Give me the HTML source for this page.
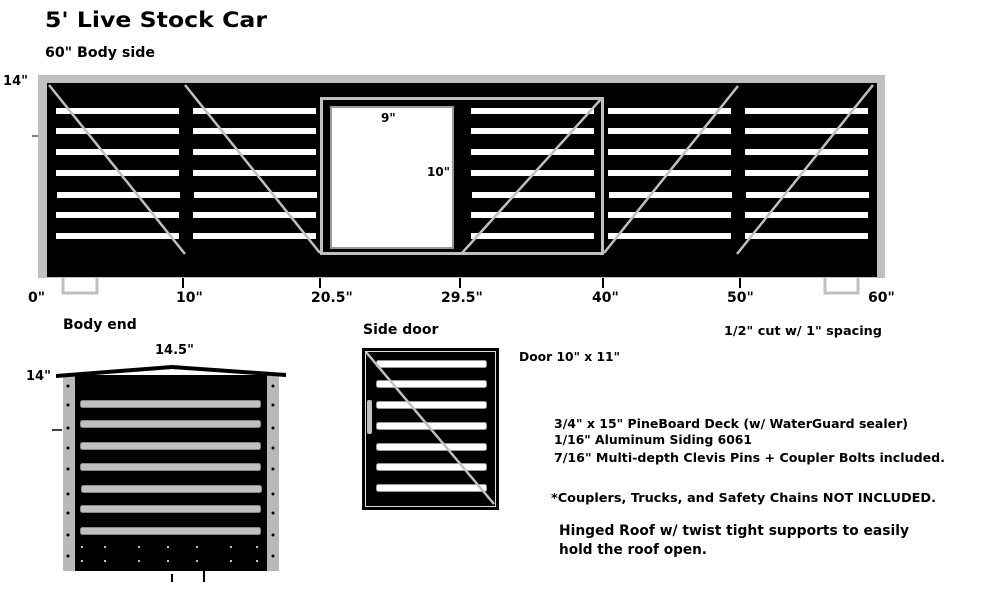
<!DOCTYPE html>
<html><head><meta charset="utf-8"><style>
html,body{margin:0;padding:0;background:#fff;}
svg{display:block;}
text{font-family:"DejaVu Sans","Liberation Sans",sans-serif;font-weight:bold;fill:#000;}
</style></head><body>
<svg width="1000" height="608" viewBox="0 0 1000 608" xmlns="http://www.w3.org/2000/svg">
<text x="45" y="27" font-size="21" textLength="222" lengthAdjust="spacingAndGlyphs">5' Live Stock Car</text>
<text x="45" y="57" font-size="14" textLength="110" lengthAdjust="spacingAndGlyphs">60" Body side</text>
<text x="3" y="85" font-size="13" textLength="25" lengthAdjust="spacingAndGlyphs">14"</text>
<line x1="32" y1="136" x2="39" y2="136" stroke="#000" stroke-width="1"/>

<rect x="38" y="75" width="847" height="203" fill="#c0c0c0"/>
<rect x="47" y="83" width="830" height="194" fill="#000"/>
<g fill="#fff">
<g id="sl">
<rect x="56" y="108" width="123" height="6"/><rect x="56" y="128" width="123" height="6"/>
<rect x="56" y="149" width="123" height="6"/><rect x="56" y="170" width="123" height="6"/>
<rect x="57" y="192" width="123" height="6"/><rect x="56" y="212" width="123" height="6"/>
<rect x="56" y="233" width="123" height="6"/>
</g>
<use href="#sl" x="137"/>
<use href="#sl" x="415"/>
<use href="#sl" x="552"/>
<use href="#sl" x="689"/>
</g>
<rect x="321.5" y="98.5" width="281" height="155" fill="none" stroke="#c0c0c0" stroke-width="3"/>
<rect x="331" y="107" width="122" height="141" fill="#fff" stroke="#999" stroke-width="2"/>
<g stroke="#c0c0c0" stroke-width="2.5">
<line x1="49" y1="85" x2="185" y2="254"/>
<line x1="185" y1="85" x2="320" y2="253"/>
<line x1="462" y1="253" x2="602" y2="98"/>
<line x1="604" y1="253" x2="738" y2="86"/>
<line x1="737" y1="254" x2="873" y2="85"/>
</g>
<text x="381" y="122" font-size="12">9"</text>
<text x="427" y="176" font-size="12">10"</text>
<g stroke="#000" stroke-width="2">
<line x1="183" y1="278" x2="183" y2="288"/><line x1="320" y1="278" x2="320" y2="288"/>
<line x1="460" y1="278" x2="460" y2="288"/><line x1="603" y1="278" x2="603" y2="288"/>
<line x1="740" y1="278" x2="740" y2="288"/>
</g>
<g fill="none" stroke="#c0c0c0" stroke-width="3">
<path d="M63 278 V293 H97 V278"/><path d="M825 278 V293 H858 V278"/>
</g>
<g font-size="14">
<text x="28" y="302">0"</text><text x="176" y="302">10"</text><text x="311" y="302">20.5"</text>
<text x="441" y="302">29.5"</text><text x="592" y="302">40"</text><text x="727" y="302">50"</text>
<text x="868" y="302">60"</text>
</g>

<text x="63" y="329" font-size="14">Body end</text>
<text x="155" y="354" font-size="13">14.5"</text>
<text x="26" y="380" font-size="13">14"</text>
<line x1="52" y1="430" x2="62" y2="430" stroke="#000" stroke-width="1.5"/>
<rect x="63" y="375" width="216" height="196" fill="#b8b8b8"/>
<rect x="75" y="375" width="192" height="196" fill="#000"/>
<path d="M56 374 L172 365 L286 373 L286 377 L172 369 L56 378 Z" fill="#000"/>
<g fill="#c0c0c0" stroke="#888" stroke-width="1">
<rect x="80.5" y="400.5" width="180" height="7" rx="2"/><rect x="80.5" y="420.5" width="180" height="7" rx="2"/>
<rect x="80.5" y="442.5" width="180" height="7" rx="2"/><rect x="80.5" y="463.5" width="180" height="7" rx="2"/>
<rect x="81.5" y="485.5" width="180" height="7" rx="2"/><rect x="80.5" y="505.5" width="180" height="7" rx="2"/>
<rect x="80.5" y="527.5" width="180" height="7" rx="2"/>
</g>
<g fill="#000">
<circle cx="68" cy="386" r="1.5"/><circle cx="68" cy="405" r="1.5"/><circle cx="68" cy="428" r="1.5"/><circle cx="68" cy="448" r="1.5"/><circle cx="68" cy="469" r="1.5"/><circle cx="68" cy="494" r="1.5"/><circle cx="68" cy="513" r="1.5"/><circle cx="68" cy="535" r="1.5"/><circle cx="68" cy="556" r="1.5"/>
<circle cx="273" cy="386" r="1.5"/><circle cx="273" cy="405" r="1.5"/><circle cx="273" cy="428" r="1.5"/><circle cx="273" cy="448" r="1.5"/><circle cx="273" cy="469" r="1.5"/><circle cx="273" cy="494" r="1.5"/><circle cx="273" cy="513" r="1.5"/><circle cx="273" cy="535" r="1.5"/><circle cx="273" cy="556" r="1.5"/>
</g>
<g fill="#fff">
<circle cx="82" cy="547" r="1"/><circle cx="105" cy="547" r="1"/><circle cx="139" cy="547" r="1"/><circle cx="168" cy="547" r="1"/><circle cx="197" cy="547" r="1"/><circle cx="231" cy="547" r="1"/><circle cx="257" cy="547" r="1"/>
<circle cx="82" cy="561" r="1"/><circle cx="105" cy="561" r="1"/><circle cx="139" cy="561" r="1"/><circle cx="168" cy="561" r="1"/><circle cx="197" cy="561" r="1"/><circle cx="231" cy="561" r="1"/><circle cx="257" cy="561" r="1"/>
</g>
<g stroke="#000" stroke-width="2">
<line x1="172" y1="574" x2="172" y2="582"/><line x1="204" y1="571" x2="204" y2="582"/>
</g>

<text x="363" y="334" font-size="14">Side door</text>
<rect x="362" y="348" width="137" height="162" fill="#000"/>
<rect x="365.5" y="351.5" width="130" height="155" fill="none" stroke="#ddd" stroke-width="1"/>
<g fill="#fff" stroke="#999" stroke-width="1">
<rect x="376.5" y="360.5" width="110" height="7" rx="2"/><rect x="376.5" y="380.5" width="110" height="7" rx="2"/>
<rect x="376.5" y="401.5" width="110" height="7" rx="2"/><rect x="376.5" y="422.5" width="110" height="7" rx="2"/>
<rect x="376.5" y="443.5" width="110" height="7" rx="2"/><rect x="376.5" y="463.5" width="110" height="7" rx="2"/>
<rect x="376.5" y="484.5" width="110" height="7" rx="2"/>
</g>
<rect x="367" y="400" width="5" height="34" rx="2" fill="#c0c0c0"/>
<line x1="366" y1="352" x2="494" y2="504" stroke="#c0c0c0" stroke-width="2.5"/>

<text x="519" y="361" font-size="12" textLength="101" lengthAdjust="spacingAndGlyphs">Door 10" x 11"</text>
<text x="724" y="335" font-size="12" textLength="158" lengthAdjust="spacingAndGlyphs">1/2" cut w/ 1" spacing</text>
<text x="554" y="428" font-size="12" textLength="354" lengthAdjust="spacingAndGlyphs">3/4" x 15" PineBoard Deck (w/ WaterGuard sealer)</text>
<text x="554" y="444" font-size="12" textLength="198" lengthAdjust="spacingAndGlyphs">1/16" Aluminum Siding 6061</text>
<text x="554" y="462" font-size="12" textLength="391" lengthAdjust="spacingAndGlyphs">7/16" Multi-depth Clevis Pins + Coupler Bolts included.</text>
<text x="551" y="502" font-size="12" textLength="385" lengthAdjust="spacingAndGlyphs">*Couplers, Trucks, and Safety Chains NOT INCLUDED.</text>
<text x="559" y="535" font-size="14" textLength="350" lengthAdjust="spacingAndGlyphs">Hinged Roof w/ twist tight supports to easily</text>
<text x="559" y="554" font-size="14" textLength="148" lengthAdjust="spacingAndGlyphs">hold the roof open.</text>
</svg>
</body></html>
